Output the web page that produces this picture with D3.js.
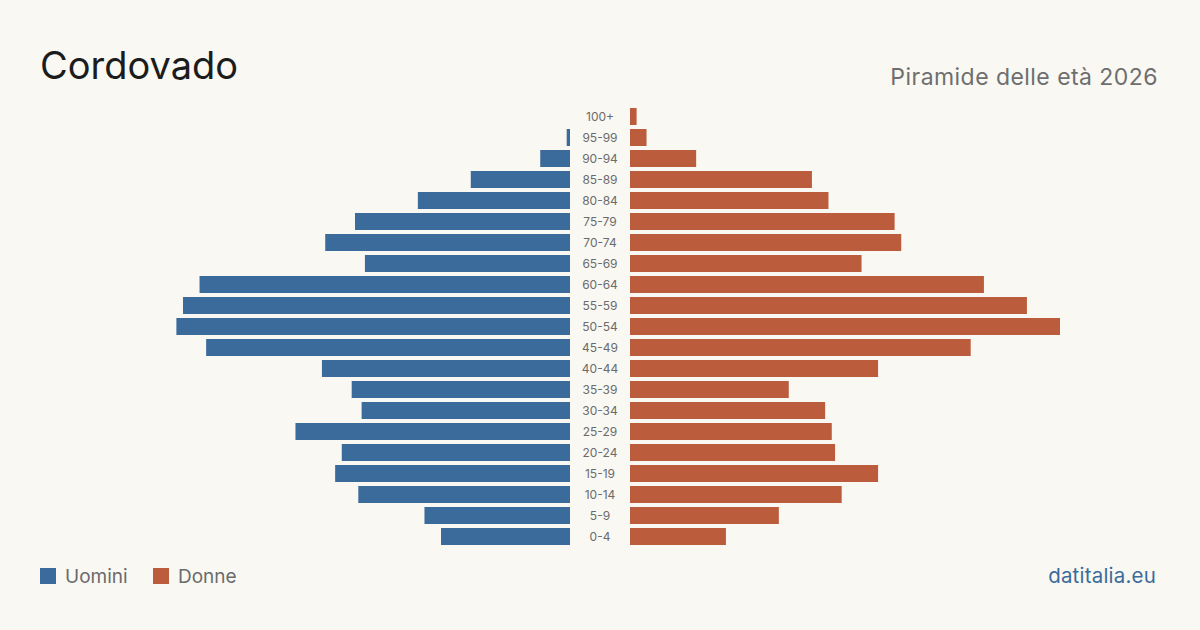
<!DOCTYPE html>
<html>
<head>
<meta charset="utf-8">
<script src="https://cdn.jsdelivr.net/npm/d3@7"></script>
<style>
  html, body { margin: 0; padding: 0; background: #f9f8f3; }
  svg { display: block; }
  text { font-family: Inter, "Noto Sans", sans-serif; }
</style>
</head>
<body>
<svg id="chart" width="1200" height="630"></svg>
<script>
const ageGroups = ["100+","95-99","90-94","85-89","80-84","75-79","70-74","65-69","60-64","55-59","50-54","45-49","40-44","35-39","30-34","25-29","20-24","15-19","10-14","5-9","0-4"];
const men   = [0, 1, 9, 30, 46, 65, 74, 62, 112, 117, 119, 110, 75, 66, 63, 83, 69, 71, 64, 44, 39];
const women = [2, 5, 20, 55, 60, 80, 82, 70, 107, 120, 130, 103, 75, 48, 59, 61, 62, 75, 64, 45, 29];
const legendLabels = ["Uomini", "Donne"];
const title = "Cordovado";
const subtitle = "Piramide delle età 2026";
const source = "datitalia.eu";

const colors = { men: "#3b6b9b", women: "#bb5d3c" };
const svg = d3.select("#chart");
svg.append("rect").attr("width", 1200).attr("height", 630).attr("fill", "#f9f8f3");

const y = d3.scaleBand().domain(ageGroups).range([106, 547]).paddingInner(4/21).paddingOuter(2/21);
const xw = d3.scaleLinear().domain([0, 130]).range([0, 430]);
const leftEdge = 570, rightEdge = 630, center = 600;

const rows = ageGroups.map((a, i) => ({ age: a, m: men[i], w: women[i] }));

svg.append("g").selectAll("rect").data(rows.filter(d => d.m > 0)).join("rect")
  .attr("x", d => leftEdge - xw(d.m)).attr("y", d => y(d.age))
  .attr("width", d => xw(d.m)).attr("height", y.bandwidth())
  .attr("fill", colors.men);

svg.append("g").selectAll("rect").data(rows.filter(d => d.w > 0)).join("rect")
  .attr("x", rightEdge).attr("y", d => y(d.age))
  .attr("width", d => xw(d.w)).attr("height", y.bandwidth())
  .attr("fill", colors.women);

svg.append("g").selectAll("text").data(rows).join("text")
  .attr("x", center).attr("y", d => y(d.age) + y.bandwidth() / 2)
  .attr("dy", "0.35em").attr("text-anchor", "middle")
  .attr("font-size", 12).attr("fill", "#6b6b6b")
  .text(d => d.age);

svg.append("text").attr("x", 40).attr("y", 79).attr("font-size", 38)
  .attr("fill", "#1c1c1c").text(title);
svg.append("text").attr("x", 1158).attr("y", 85).attr("text-anchor", "end")
  .attr("font-size", 23).attr("letter-spacing", 0.45).attr("fill", "#6e6e6e").text(subtitle);

const legend = svg.append("g");
const legX = [40, 153];
legendLabels.forEach((lab, i) => {
  legend.append("rect").attr("x", legX[i]).attr("y", 568).attr("width", 16).attr("height", 16)
    .attr("fill", i === 0 ? colors.men : colors.women);
  legend.append("text").attr("x", legX[i] + 25).attr("y", 583).attr("font-size", 19)
    .attr("fill", "#6b6b6b").text(lab);
});

svg.append("text").attr("x", 1156).attr("y", 583).attr("text-anchor", "end")
  .attr("font-size", 20.5).attr("letter-spacing", 0.2).attr("fill", "#3b6b9b").text(source);
</script>
</body>
</html>
